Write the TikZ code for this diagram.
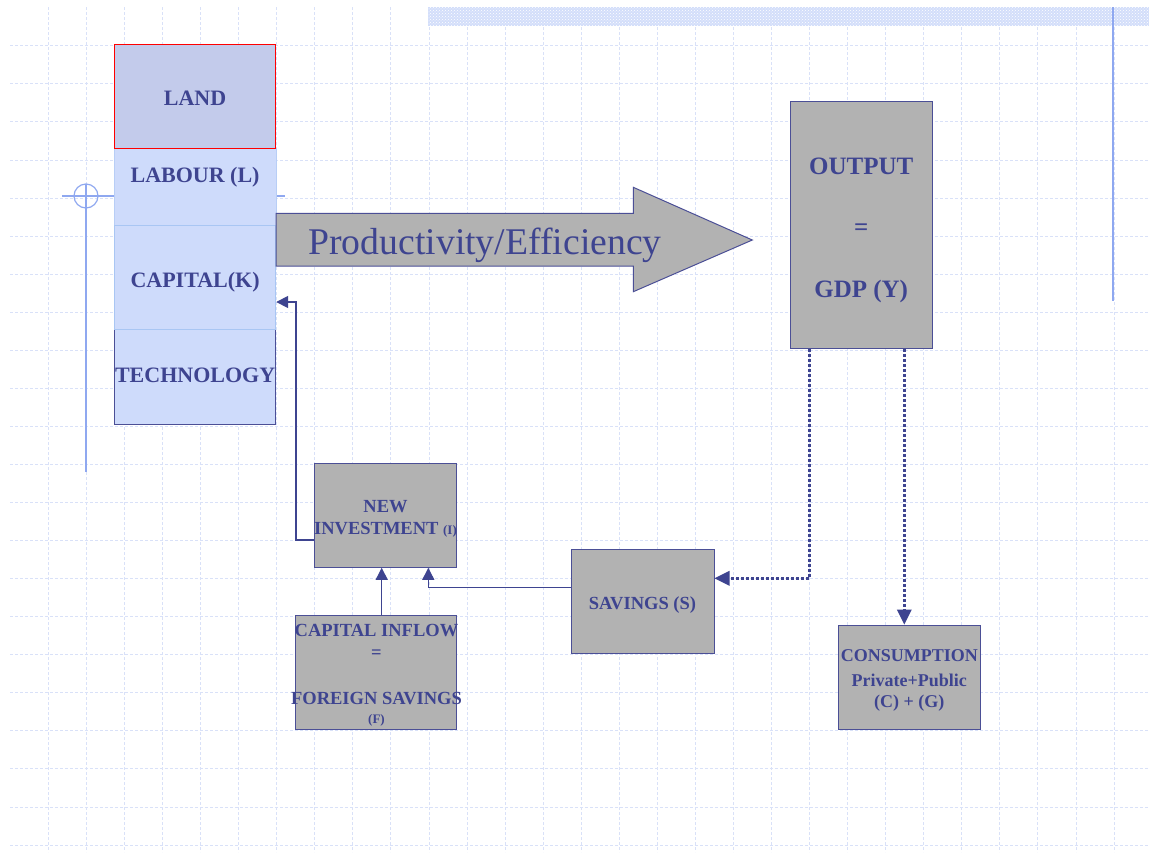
\documentclass[tikz,border=0pt]{standalone}
\usepackage{fontspec}
\setmainfont{Liberation Serif}
\usetikzlibrary{arrows.meta,patterns}
\definecolor{navy}{HTML}{3E4490}
\definecolor{boxgray}{HTML}{B2B2B2}
\definecolor{boxline}{HTML}{4B4F96}
\definecolor{landfill}{HTML}{C3CBEB}
\definecolor{lightfill}{HTML}{CEDBFB}
\definecolor{lightline}{HTML}{A9C6F3}
\definecolor{gridcol}{HTML}{D9E1F8}
\definecolor{crosscol}{HTML}{8FA8F0}
\definecolor{bandcol}{HTML}{D3DEFA}
\begin{document}
\begin{tikzpicture}[x=1pt,y=-1pt,
  gridline/.style={draw=gridcol,line width=0.8pt,dash pattern=on 3pt off 2pt},
  graybox/.style={draw=boxline,fill=boxgray,line width=1pt,inner sep=0pt},
  factor/.style={fill=lightfill,inner sep=0pt},
  txt/.style={text=navy,inner sep=0pt,anchor=base,font=\bfseries\fontsize{#1}{#1}\selectfont},
  conn/.style={draw=navy,line width=1.1pt,-{Triangle[length=12pt,width=12pt]}},
  dotconn/.style={draw=navy,line width=3pt,dash pattern=on 3pt off 2pt,-{Triangle[length=15pt,width=15pt,line width=0pt]}}
]
\useasboundingbox (0,0) rectangle (1149,852);
\fill[white] (0,0) rectangle (1149,852);
% grid
\foreach \i in {0,...,28} \draw[gridline] ({48.3+38.06*\i},7) -- ({48.3+38.06*\i},852);
\foreach \j in {0,...,21} \draw[gridline] (10,{845-38.06*\j}) -- (1149,{845-38.06*\j});
% top band
\fill[bandcol] (428,7) rectangle (1149,26);
\fill[pattern=crosshatch dots,pattern color=white] (428,7) rectangle (1149,26);
% right vertical line
\draw[crosscol,line width=2pt] (1113,7) -- (1113,301);
% crosshair
\draw[crosscol,line width=1.2pt] (86,184) -- (86,472);
\draw[crosscol,line width=1.2pt] (62,196) -- (285,196);
\draw[crosscol,line width=1.2pt] (86,196) circle (12);
% factor boxes
\node[factor,draw=lightline!60!lightfill,minimum width=161.2pt,minimum height=76.7pt] (labour) at (195.1,186.65) {};
\node[factor,draw=boxline,line width=1pt,minimum width=161.2pt,minimum height=95pt] (tech) at (195.1,376.5) {};
\node[factor,draw=lightline,line width=1pt,minimum width=161.2pt,minimum height=104pt] (capital) at (195.1,277) {};
\node[fill=landfill,draw=red,line width=1.2pt,minimum width=161.2pt,minimum height=103.6pt,inner sep=0pt] (land) at (195.1,96.5) {};
\node[txt=22] (landt) at (195.1,105.5) {LAND};
\node[txt=22] (labourt) at (195.1,182.5) {LABOUR (L)};
\node[txt=22] (capitalt) at (195.1,287.5) {CAPITAL(K)};
\node[txt=22] (techt) at (195.1,382.5) {TECHNOLOGY};
% productivity arrow
\filldraw[fill=boxgray,draw=boxline,line width=1pt] (276,213.3) -- (633.3,213.3) -- (633.3,187.3) -- (752.3,240) -- (633.3,291.7) -- (633.3,266) -- (276,266) -- cycle;
\node[text=navy,font=\fontsize{37.7}{40}\selectfont,anchor=base,inner sep=0pt] (prod) at (485,254) {Productivity/Efficiency};
% output
\node[graybox,minimum width=142.3pt,minimum height=246.6pt] (out) at (861.2,225) {};
\node[txt=25] (out1) at (861.2,174.5) {OUTPUT};
\node[txt=25] (out2) at (861.2,235.5) {=};
\node[txt=25] (out3) at (861.2,297.5) {GDP (Y)};
% new investment
\node[graybox,minimum width=142.4pt,minimum height=104pt] (inv) at (385.5,515.3) {};
\node[txt=18.5] (inv1) at (385.5,512) {NEW};
\node[txt=18.5] (inv2) at (385.5,534.3) {INVESTMENT {\fontsize{13}{13}\selectfont (I)}};
% capital inflow
\node[graybox,minimum width=161.7pt,minimum height=113.6pt] (capin) at (375.85,672.5) {};
\node[txt=18.5] (capin1) at (376.5,636.3) {CAPITAL INFLOW};
\node[txt=18.5] (capin2) at (376.5,658.6) {=};
\node[txt=18.5] (capin3) at (376.5,704.6) {FOREIGN SAVINGS};
\node[txt=13] (capin4) at (376.5,723.8) {(F)};
% savings
\node[graybox,minimum width=142.3pt,minimum height=104pt] (sav) at (642.85,601.3) {};
\node[txt=18.5] (savt) at (642.5,609) {SAVINGS (S)};
% consumption
\node[graybox,minimum width=141.7pt,minimum height=104pt] (cons) at (909.15,677) {};
\node[txt=18] (cons1) at (909.3,661.2) {CONSUMPTION};
\node[txt=18] (cons2) at (909.3,686.2) {Private+Public};
\node[txt=18] (cons3) at (909.3,707.8) {(C) + (G)};
% connectors
\draw[conn,line width=1.6pt] (inv.west |- 0,540) -| (295.7,302) -- (capital.east |- 0,302);
\draw[conn] (sav.west |- 0,587.3) -| (inv.south -| 428.3,0);
\draw[conn] (capin.north -| 381.7,0) -- (inv.south -| 381.7,0);
\draw[dotconn] (out.south -| 809.3,0) |- (sav.east |- 0,578.3);
\draw[dotconn] (out.south -| 904.3,0) -- (cons.north -| 904.3,0);
\end{tikzpicture}
\end{document}
